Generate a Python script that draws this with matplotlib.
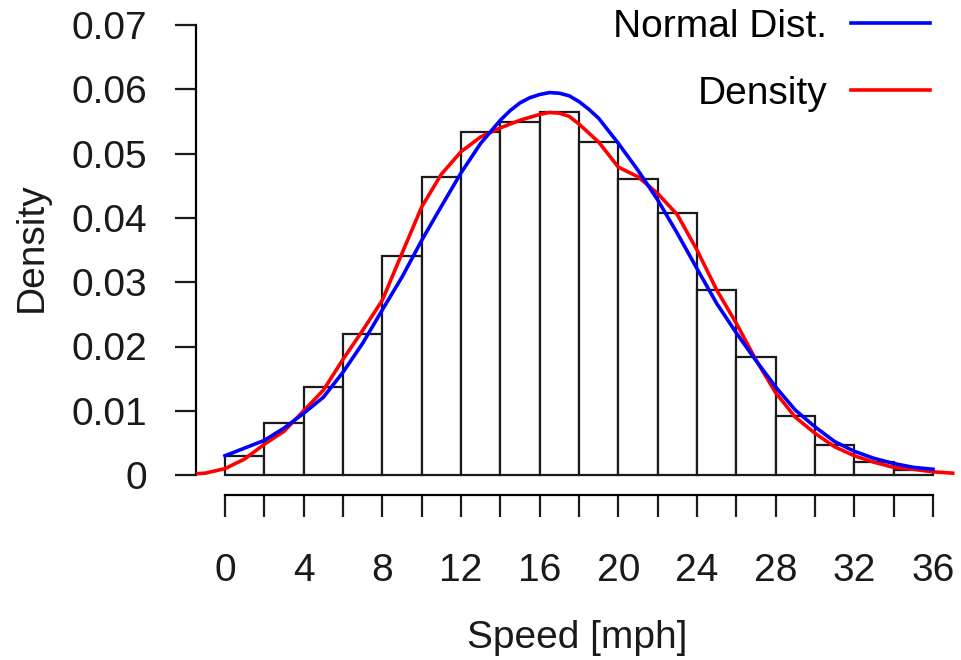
import numpy as np
import matplotlib.pyplot as plt

plt.rcParams['font.family'] = ['Liberation Sans', 'DejaVu Sans']

# histogram (density per 2 mph bin)
bin_edges = [0, 2, 4, 6, 8, 10, 12, 14, 16, 18, 20, 22, 24, 26, 28, 30, 32, 34, 36]
bin_density = [0.0030, 0.0081, 0.0137, 0.0219, 0.0341, 0.0464, 0.0533, 0.0549, 0.0565,
               0.0518, 0.0460, 0.0407, 0.0288, 0.0184, 0.0092, 0.0047, 0.0020, 0.0008]

# fitted normal curve
norm_x = [0, 1, 2, 3, 4, 5, 6, 7, 8, 9, 10, 11, 12, 13, 14, 14.5, 15, 15.5, 16, 16.5,
          17, 17.5, 18, 18.5, 19, 20, 21, 22, 23, 24, 25, 26, 27, 28, 29, 30, 31, 32,
          33, 34, 35, 36]
norm_y = [0.0030, 0.0042, 0.0054, 0.0073, 0.0096, 0.0121, 0.0160, 0.0205, 0.0257,
          0.0308, 0.0365, 0.0418, 0.0470, 0.0516, 0.0552, 0.0567, 0.0579, 0.0587,
          0.0592, 0.0595, 0.0594, 0.0590, 0.0581, 0.0569, 0.0555, 0.0516, 0.0474,
          0.0428, 0.0376, 0.0321, 0.0267, 0.0221, 0.0178, 0.0137, 0.0101, 0.0075,
          0.0052, 0.0037, 0.0026, 0.0018, 0.0012, 0.0009]

# kernel density curve
kde_x = [-1.5, -1, 0, 1, 2, 3, 4, 5, 6, 7, 8, 9, 10, 11, 12, 13, 14, 15, 16, 16.5,
         17, 17.5, 18, 19, 20, 21, 22, 23, 24, 25, 26, 27, 28, 29, 30, 31, 32, 33,
         34, 35, 36, 37]
kde_y = [0.0002, 0.0003, 0.0010, 0.0025, 0.0048, 0.0068, 0.0100, 0.0132, 0.0180,
         0.0225, 0.0272, 0.0345, 0.0417, 0.0468, 0.0503, 0.0526, 0.0540, 0.0552,
         0.0561, 0.0564, 0.0563, 0.0558, 0.0546, 0.0518, 0.0479, 0.0464, 0.0438,
         0.0405, 0.0350, 0.0288, 0.0236, 0.0179, 0.0128, 0.0090, 0.0065, 0.0044,
         0.0030, 0.0020, 0.0012, 0.0009, 0.0005, 0.0003]

x_ticks = [0, 4, 8, 12, 16, 20, 24, 28, 32, 36]
y_ticks = [0, 0.01, 0.02, 0.03, 0.04, 0.05, 0.06, 0.07]
y_labels = ['0', '0.01', '0.02', '0.03', '0.04', '0.05', '0.06', '0.07']

fig = plt.figure(figsize=(9.61, 6.6), dpi=100)
ax = fig.add_axes([196 / 961, 1 - 495 / 660, (958 - 196) / 961, 495 / 660])

ax.bar(bin_edges[:-1], bin_density, width=2, align='edge',
       facecolor='white', edgecolor='#1a1a1a', linewidth=1.6)
ax.plot(norm_x, norm_y, color='#0000ff', lw=2.6, label='Normal Dist.', zorder=4)
ax.plot(kde_x, kde_y, color='#ff0000', lw=2.6, label='Density', zorder=3)

ax.set_xlim(-1.474, 37.27)
ax.set_ylim(-0.0031, 0.0739)

for s in ['top', 'right']:
    ax.spines[s].set_visible(False)
ax.spines['left'].set_bounds(0, 0.07)
ax.spines['bottom'].set_bounds(0, 36)
ax.spines['left'].set_linewidth(1.6)
ax.spines['bottom'].set_linewidth(1.6)

ax.set_xticks(bin_edges)
ax.set_xticklabels([str(v) if v in x_ticks else '' for v in bin_edges])
ax.set_yticks(y_ticks)
ax.set_yticklabels(y_labels)
ax.tick_params(axis='x', length=16, width=1.6, pad=26, labelsize=28, colors='#1a1a1a')
ax.tick_params(axis='y', length=15, width=1.6, pad=20, labelsize=28, colors='#1a1a1a')

ax.set_xlabel('Speed [mph]', fontsize=28, color='#1a1a1a', labelpad=22)
ax.set_ylabel('Density', fontsize=28, color='#1a1a1a', labelpad=16)

ax.legend(loc='upper right', bbox_to_anchor=(0.984, 1.014), frameon=False,
          markerfirst=False, fontsize=28, handlelength=2.05, handletextpad=0.6,
          labelspacing=0.8, borderaxespad=0)

fig.savefig('out.png', dpi=100)
